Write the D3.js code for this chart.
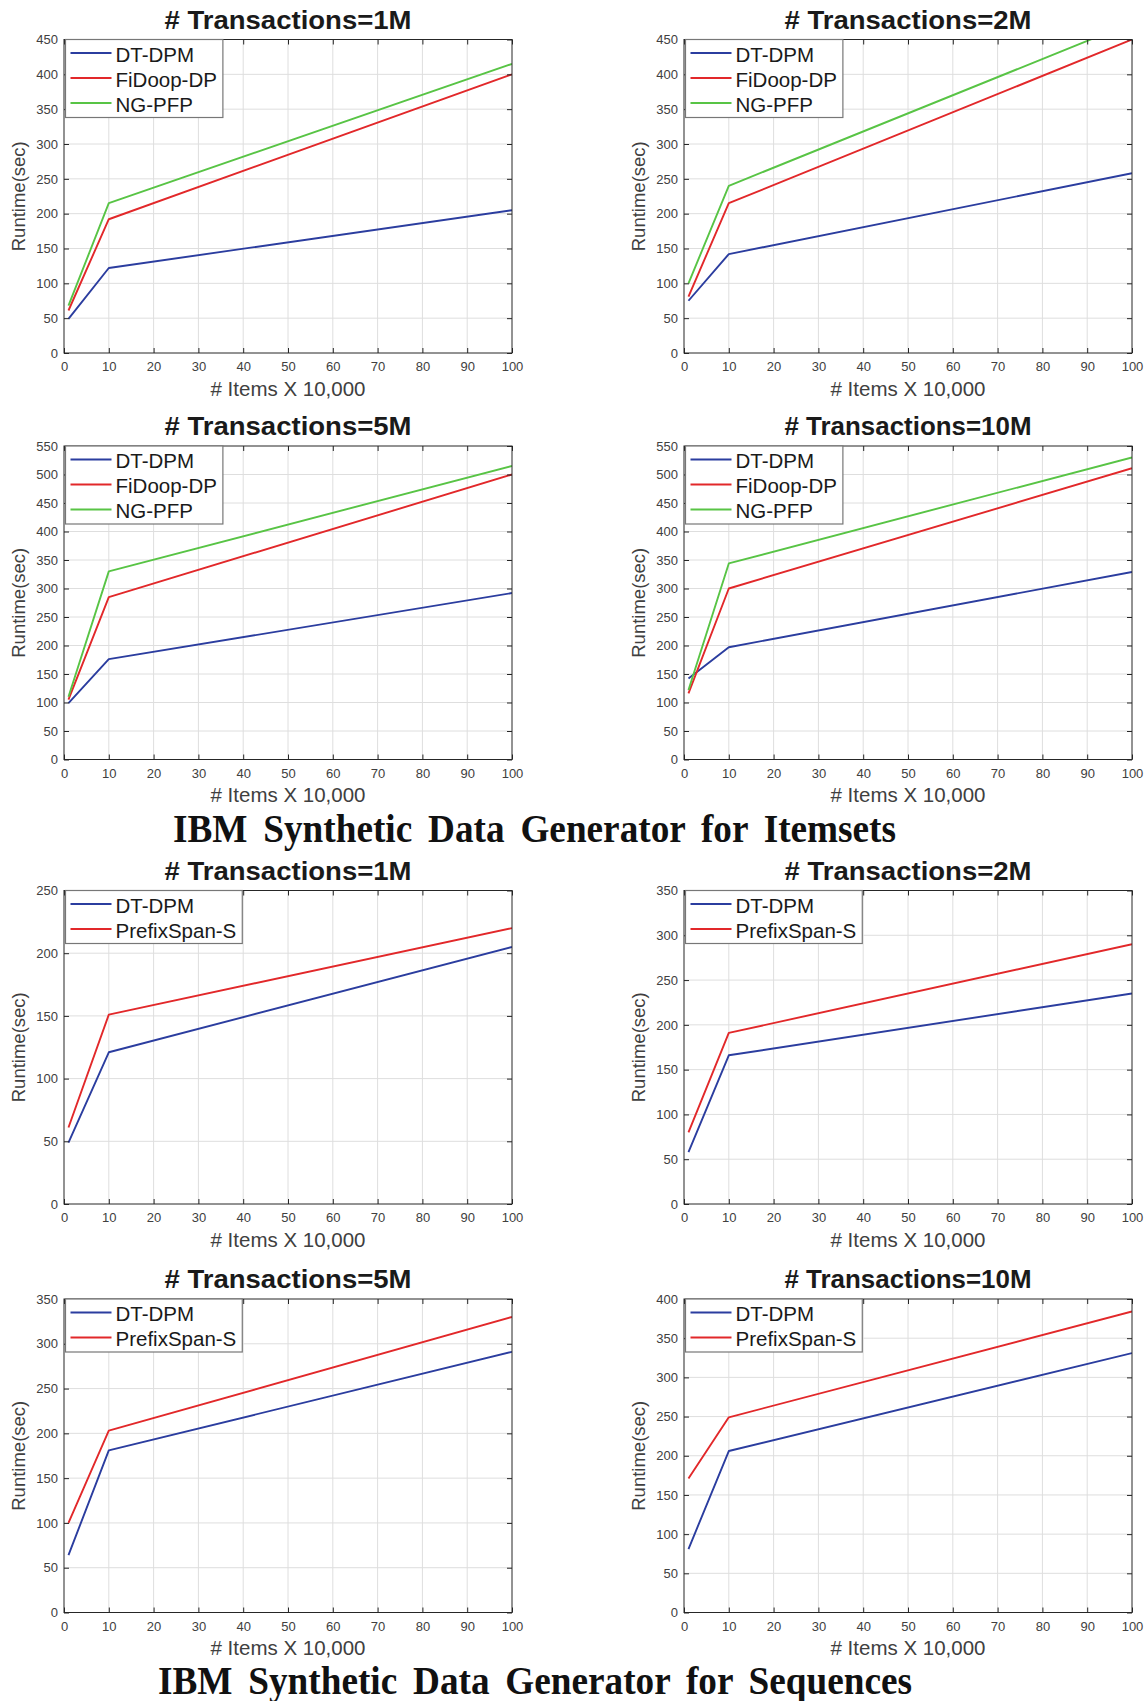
<!DOCTYPE html>
<html>
<head>
<meta charset="utf-8">
<script src="https://cdn.jsdelivr.net/npm/d3@7"></script>
<style>
body { margin: 0; background: #fff; }
svg text { font-family: 'Liberation Sans', Arial, Helvetica, sans-serif; }
</style>
</head>
<body>
<script>
// x positions (# items x 10,000)
const xValues = [1, 10, 100]
const xTicks = [0, 10, 20, 30, 40, 50, 60, 70, 80, 90, 100]
const panelTitles = ['# Transactions=1M', '# Transactions=2M', '# Transactions=5M', '# Transactions=10M']

// itemsets, one row per panel (1M, 2M, 5M, 10M)
const itemsetNames = ['DT-DPM', 'FiDoop-DP', 'NG-PFP']
const itemDTDPM = [[49, 122, 205], [75, 142, 258], [99, 176, 292], [142, 197, 329]]
const itemFiDoop = [[61, 192, 400], [81, 215, 450], [105, 285, 500], [116, 300, 511]]
const itemNGPFP = [[68, 215, 415], [100, 240, 474], [110, 330, 515], [122, 344, 530]]
const itemYMax = [450, 450, 550, 550]

// sequences
const sequenceNames = ['DT-DPM', 'PrefixSpan-S']
const seqDTDPM = [[49, 121, 205], [58, 166, 235], [64, 181, 291], [81, 206, 331]]
const seqPrefixSpan = [[61, 151, 220], [80, 191, 290], [100, 203, 330], [171, 249, 384]]
const seqYMax = [250, 350, 350, 400]

const colors = { 'DT-DPM': '#2b3d9f', 'FiDoop-DP': '#e2282a', 'NG-PFP': '#58c445', 'PrefixSpan-S': '#e2282a' }

const w = 1148
const h = 1701
const svg = d3.select('body').append('svg')
     .attr('width', w)
     .attr('height', h)

const cols = [{ left: 64, right: 512 }, { left: 684, right: 1132 }]
const rowTops = [39.5, 446, 890.5, 1299]
const plotH = 313.5
let clipId = 0

function drawPanel(col, row, title, yMax, names, series) {
     const left = cols[col].left
     const right = cols[col].right
     const top = rowTops[row]
     const bottom = top + plotH

     const xScale = d3.scaleLinear().domain([0, 100]).range([left, right])
     const yScale = d3.scaleLinear().domain([0, yMax]).range([bottom, top])
     const yTicks = d3.range(0, yMax + 1, 50)

     const g = svg.append('g')

     // grid
     g.append('g').selectAll('line')
          .data(xTicks.slice(1, -1))
          .enter().append('line')
          .attr('x1', d => xScale(d)).attr('x2', d => xScale(d))
          .attr('y1', top).attr('y2', bottom)
          .attr('stroke', '#dedede').attr('stroke-width', 1)
     g.append('g').selectAll('line')
          .data(yTicks.slice(1, -1))
          .enter().append('line')
          .attr('x1', left).attr('x2', right)
          .attr('y1', d => yScale(d)).attr('y2', d => yScale(d))
          .attr('stroke', '#dedede').attr('stroke-width', 1)

     // lines
     const cid = 'clip' + (clipId++)
     svg.append('clipPath').attr('id', cid)
          .append('rect')
          .attr('x', left).attr('y', top)
          .attr('width', right - left).attr('height', bottom - top)

     const line = d3.line()
          .x((d, i) => xScale(xValues[i]))
          .y(d => yScale(d))

     g.append('g').attr('clip-path', 'url(#' + cid + ')')
          .selectAll('path')
          .data(series)
          .enter().append('path')
          .attr('d', d => line(d))
          .attr('fill', 'none')
          .attr('stroke', (d, i) => colors[names[i]])
          .attr('stroke-width', 1.9)
          .attr('stroke-linejoin', 'round')

     // axes with inward ticks on all four sides
     const xAxis = d3.axisBottom(xScale).tickValues(xTicks).tickSizeInner(-5).tickSizeOuter(0).tickPadding(9)
     const yAxis = d3.axisLeft(yScale).tickValues(yTicks).tickSizeInner(-5).tickSizeOuter(0).tickPadding(6)

     const gx = g.append('g').attr('transform', 'translate(0,' + bottom + ')').call(xAxis)
     const gy = g.append('g').attr('transform', 'translate(' + left + ',0)').call(yAxis)
     const gt = g.append('g').attr('transform', 'translate(0,' + top + ')')
          .call(d3.axisTop(xScale).tickValues(xTicks).tickSizeInner(-5).tickSizeOuter(0).tickFormat(''))
     const gr = g.append('g').attr('transform', 'translate(' + right + ',0)')
          .call(d3.axisRight(yScale).tickValues(yTicks).tickSizeInner(-5).tickSizeOuter(0).tickFormat(''))

     ;[gx, gy, gt, gr].forEach(a => {
          a.select('.domain').remove()
          a.selectAll('line').attr('stroke', '#262626')
          a.selectAll('text')
               .attr('fill', '#404040')
               .style('font-size', '13px')
               .style('font-family', "'Liberation Sans', Arial, sans-serif")
     })

     g.append('rect')
          .attr('x', left).attr('y', top)
          .attr('width', right - left).attr('height', bottom - top)
          .attr('fill', 'none').attr('stroke', '#262626').attr('stroke-width', 1)

     // labels
     const t = g.append('text')
          .attr('x', (left + right) / 2).attr('y', top - 11)
          .attr('text-anchor', 'middle')
          .attr('font-weight', 'bold')
          .attr('font-size', 25)
          .attr('fill', '#1a1a1a')
          .text(title)
     t.attr('textLength', 247).attr('lengthAdjust', 'spacingAndGlyphs')

     g.append('text')
          .attr('x', (left + right) / 2).attr('y', bottom + 42.5)
          .attr('text-anchor', 'middle')
          .attr('font-size', 20.5)
          .attr('fill', '#404040')
          .text('# Items X 10,000')

     g.append('text')
          .attr('transform', 'translate(' + (left - 39) + ',' + ((top + bottom) / 2) + ') rotate(-90)')
          .attr('text-anchor', 'middle')
          .attr('font-size', 18.5)
          .attr('fill', '#404040')
          .text('Runtime(sec)')

     // legend
     const legend = g.append('g').attr('transform', 'translate(' + (left + 1.5) + ',' + top + ')')
     const box = legend.append('rect')
          .attr('fill', '#fff').attr('stroke', '#777').attr('stroke-width', 1.2)
     const entries = legend.selectAll('g.entry')
          .data(names)
          .enter().append('g')
          .attr('class', 'entry')
          .attr('transform', (d, i) => 'translate(0,' + (13.5 + i * 25) + ')')
     entries.append('line')
          .attr('x1', 5).attr('x2', 46)
          .attr('stroke', d => colors[d]).attr('stroke-width', 1.9)
     const labels = entries.append('text')
          .attr('x', 50).attr('y', 8.5)
          .attr('font-size', 20.5)
          .attr('fill', '#1a1a1a')
          .text(d => d)
     let maxW = 0
     labels.each(function() { maxW = Math.max(maxW, this.getComputedTextLength()) })
     box.attr('width', 50 + maxW + 6).attr('height', 28 + (names.length - 1) * 25)
}

for (let p = 0; p < 4; p++) {
     drawPanel(p % 2, Math.floor(p / 2), panelTitles[p], itemYMax[p], itemsetNames,
          [itemDTDPM[p], itemFiDoop[p], itemNGPFP[p]])
     drawPanel(p % 2, 2 + Math.floor(p / 2), panelTitles[p], seqYMax[p], sequenceNames,
          [seqDTDPM[p], seqPrefixSpan[p]])
}

// figure captions: slightly condensed glyphs, wide word gaps
const captions = [
     { text: 'IBM Synthetic Data Generator for Itemsets', x: 173, y: 842, width: 723 },
     { text: 'IBM Synthetic Data Generator for Sequences', x: 158, y: 1694, width: 754 }
]
const squeeze = 0.955
captions.forEach(c => {
     const cap = svg.append('text')
          .attr('transform', 'translate(' + c.x + ',' + c.y + ') scale(' + squeeze + ',1)')
          .attr('font-size', 39)
          .attr('font-weight', 'bold')
          .attr('fill', '#111')
          .style('font-family', "'Liberation Serif', 'Times New Roman', serif")
          .text(c.text)
     const natural = cap.node().getComputedTextLength()
     cap.attr('word-spacing', Math.max(0, (c.width / squeeze - natural) / 5))
})
</script>
</body>
</html>
